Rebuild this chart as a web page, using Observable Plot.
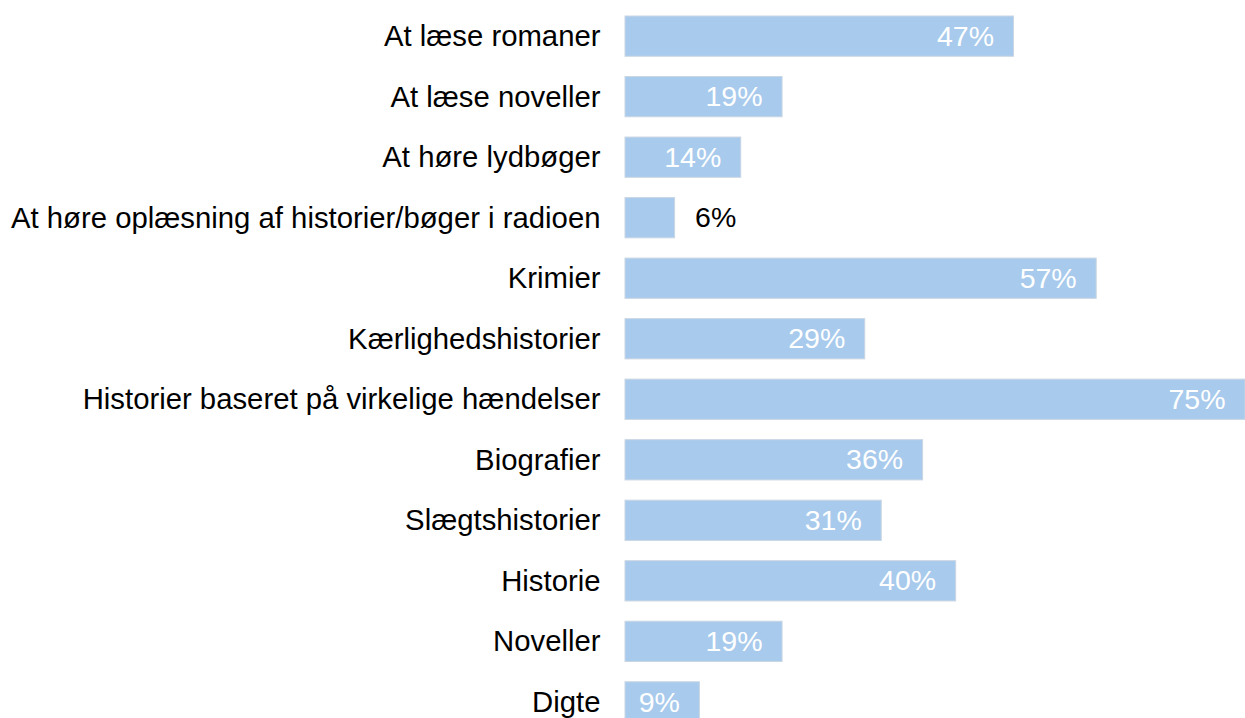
<!DOCTYPE html>
<html><head><meta charset="utf-8">
<script src="https://cdn.jsdelivr.net/npm/d3@7"></script>
<script src="https://cdn.jsdelivr.net/npm/@observablehq/plot@0.6"></script>
<style>
html,body{margin:0;padding:0;background:#fff;overflow:hidden;}
svg{display:block;}
</style>
</head><body>
<div id="chart"></div>
<script>
const categories = [
  "At læse romaner",
  "At læse noveller",
  "At høre lydbøger",
  "At høre oplæsning af historier/bøger i radioen",
  "Krimier",
  "Kærlighedshistorier",
  "Historier baseret på virkelige hændelser",
  "Biografier",
  "Slægtshistorier",
  "Historie",
  "Noveller",
  "Digte"
];
const values = [47, 19, 14, 6, 57, 29, 75, 36, 31, 40, 19, 9];
const labels = ["47%", "19%", "14%", "6%", "57%", "29%", "75%", "36%", "31%", "40%", "19%", "9%"];

const data = categories.map((c, i) => ({category: c, value: values[i], label: labels[i]}));
const inside = data.filter(d => d.value >= 9);
const outside = data.filter(d => d.value < 9);

const chart = Plot.plot({
  width: 1245,
  height: 722,
  marginLeft: 625,
  marginRight: 0,
  marginTop: 16,
  marginBottom: 0,
  style: {fontFamily: "'Liberation Sans', Arial, sans-serif", fontSize: "28px", color: "#000"},
  x: {domain: [0, 75], axis: null},
  y: {domain: categories, paddingInner: 0.335, paddingOuter: 0, round: false, label: null},
  marks: [
    Plot.barX(data, {y: "category", x: "value", fill: "#a8caec", stroke: "#c9d6e3", strokeWidth: 1}),
    Plot.axisY({tickSize: 0, tickPadding: 25, fontSize: 29.3, fill: "#000", label: null}),
    Plot.text(inside, {y: "category", x: "value", text: "label", textAnchor: "end", dx: -20, fill: "#fff", fontSize: 28.5}),
    Plot.text(outside, {y: "category", x: "value", text: "label", textAnchor: "start", dx: 20, fill: "#000", fontSize: 28.5})
  ]
});
document.getElementById("chart").appendChild(chart);
</script>
</body></html>
